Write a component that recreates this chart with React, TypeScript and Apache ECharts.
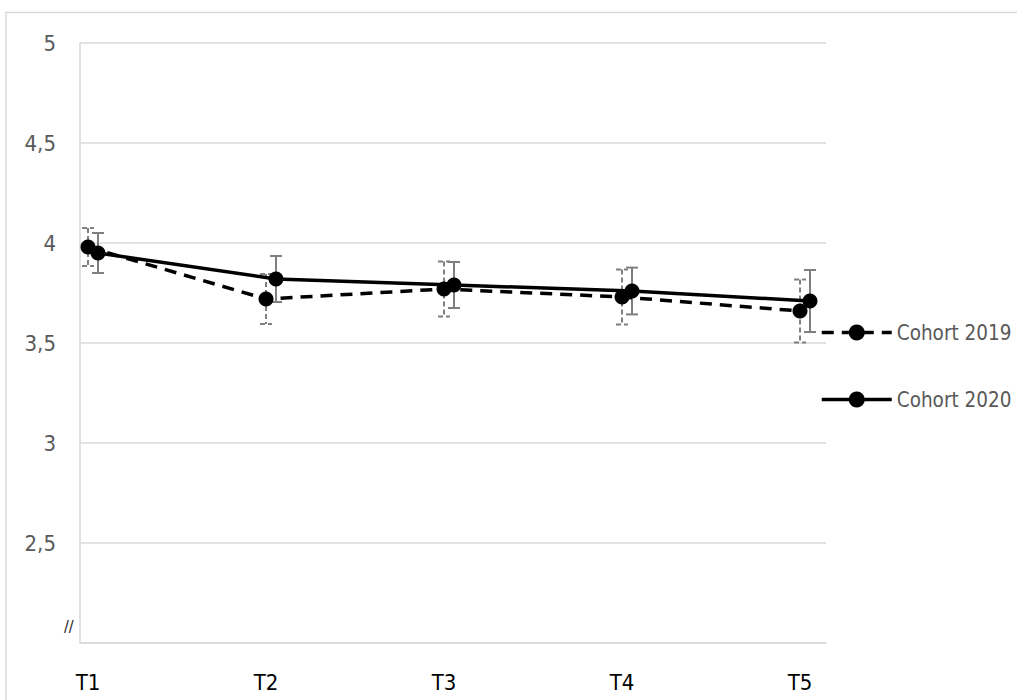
import React, { useEffect, useRef } from "react";
import * as echarts from "echarts";

const categories = ["T1", "T2", "T3", "T4", "T5"];
const yTicks = [2, 2.5, 3, 3.5, 4, 4.5, 5];
const cohort2019 = [3.98, 3.72, 3.77, 3.73, 3.66];
const cohort2020 = [3.95, 3.82, 3.79, 3.76, 3.71];
const err2019 = [0.095, 0.125, 0.137, 0.137, 0.157];
const err2020 = [0.1, 0.115, 0.115, 0.117, 0.155];
const seriesNames = ["Cohort 2019", "Cohort 2020"];
const offset2020 = 0.056;

const FONT = "'Liberation Sans Narrow', 'DejaVu Sans Condensed', 'Liberation Sans', sans-serif";

function errorBars(vals: number[], errs: number[], off: number) {
  return vals.map((v, i) => [i + 1 + off, v, v - errs[i], v + errs[i]]);
}

function makeRenderItem(dash: number[] | null) {
  return (params: any, api: any) => {
    const x = api.value(0);
    const lo = api.value(2);
    const hi = api.value(3);
    const p = api.coord([x, hi]);
    const q = api.coord([x, lo]);
    const cw = 6;
    const style: any = { stroke: "#7f7f7f", lineWidth: 2, fill: "none" };
    if (dash) style.lineDash = dash;
    return {
      type: "group",
      children: [
        { type: "line", shape: { x1: p[0], y1: p[1], x2: q[0], y2: q[1] }, style },
        { type: "line", shape: { x1: p[0] - cw, y1: p[1], x2: p[0] + cw, y2: p[1] }, style },
        { type: "line", shape: { x1: q[0] - cw, y1: q[1], x2: q[0] + cw, y2: q[1] }, style },
      ],
    };
  };
}

export default function App() {
  const ref = useRef<HTMLDivElement>(null);
  useEffect(() => {
    if (!ref.current) return;
    const chart = echarts.init(ref.current, null, { renderer: "svg" });
    const option: any = {
      animation: false,
      backgroundColor: "#ffffff",
      grid: { left: 80, right: 191, top: 43, bottom: 57 },
      legend: {
        orient: "vertical",
        left: 820,
        top: 322,
        itemWidth: 70,
        itemHeight: 20,
        itemGap: 46,
        padding: 0,
        data: seriesNames,
        lineStyle: { width: 3.5 },
        textStyle: { fontFamily: FONT, fontSize: 20.5, color: "#595959" },
      },
      xAxis: {
        type: "value",
        min: 0.955,
        max: 5.146,
        splitLine: { show: false },
        axisTick: { show: false },
        axisLine: { show: true, lineStyle: { color: "#d9d9d9", width: 1.5 } },
        axisLabel: {
          customValues: [1, 2, 3, 4, 5],
          formatter: (v: number) => categories[Math.round(v) - 1] ?? "",
          color: "#000000",
          fontFamily: FONT,
          fontSize: 22,
          margin: 28,
        },
      },
      yAxis: {
        type: "value",
        min: yTicks[0],
        max: yTicks[yTicks.length - 1],
        interval: 0.5,
        axisLine: { show: true, lineStyle: { color: "#d9d9d9", width: 1.5 } },
        axisTick: { show: false },
        splitLine: { show: true, lineStyle: { color: "#d9d9d9", width: 1.5 } },
        axisLabel: {
          formatter: (v: number) => (v === yTicks[0] ? "" : String(v).replace(".", ",")),
          color: "#595959",
          fontFamily: FONT,
          fontSize: 22,
          margin: 24,
        },
      },
      graphic: [
        {
          type: "rect",
          shape: { x: 6, y: 12.5, width: 1030, height: 720 },
          style: { fill: "none", stroke: "#d9d9d9", lineWidth: 1.5 },
          silent: true,
        },
        {
          type: "text",
          x: 64,
          y: 618,
          style: { text: "//", fontFamily: FONT, fontSize: 16, fill: "#262626" },
          silent: true,
        },
      ],
      series: [
        {
          name: "err2019",
          type: "custom",
          renderItem: makeRenderItem([5, 3]),
          data: errorBars(cohort2019, err2019, 0),
          encode: { x: 0, y: 1 },
          z: 1,
        },
        {
          name: "err2020",
          type: "custom",
          renderItem: makeRenderItem(null),
          data: errorBars(cohort2020, err2020, offset2020),
          encode: { x: 0, y: 1 },
          z: 1,
        },
        {
          name: seriesNames[0],
          type: "line",
          data: cohort2019.map((v, i) => [i + 1, v]),
          symbol: "circle",
          symbolSize: 15,
          lineStyle: { color: "#000", width: 3.5, type: [12, 8] },
          itemStyle: { color: "#000" },
          z: 3,
        },
        {
          name: seriesNames[1],
          type: "line",
          data: cohort2020.map((v, i) => [i + 1 + offset2020, v]),
          symbol: "circle",
          symbolSize: 15,
          lineStyle: { color: "#000", width: 3.5, type: "solid" },
          itemStyle: { color: "#000" },
          z: 4,
        },
      ],
    };
    chart.setOption(option);
    return () => chart.dispose();
  }, []);
  return (
    <div
      ref={ref}
      style={{ position: "fixed", left: 0, top: 0, width: 1017, height: 700 }}
    />
  );
}
